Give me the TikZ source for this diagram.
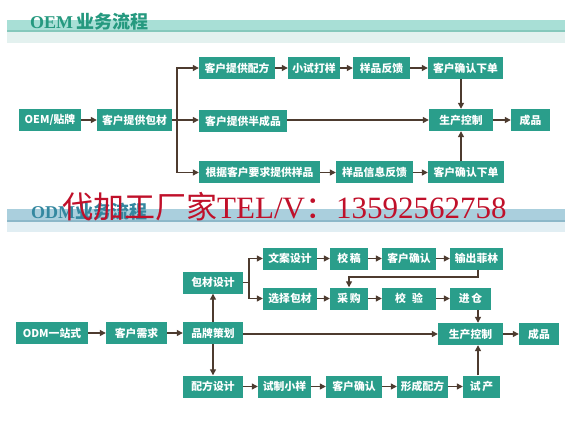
\documentclass[tikz,border=0pt]{standalone}
\usepackage{fontspec}
\setmainfont{Liberation Serif}
\newfontfamily\cjk{Noto Sans CJK SC}
\usetikzlibrary{arrows.meta}
\definecolor{boxfill}{HTML}{2A9E8B}
\definecolor{arrowc}{HTML}{4D3B2F}
\definecolor{oemband}{HTML}{A8DFD6}
\definecolor{oemline}{HTML}{86C8BC}
\definecolor{oemlight}{HTML}{E3F1EF}
\definecolor{odmband}{HTML}{AACFDD}
\definecolor{odmline}{HTML}{8DB8C9}
\definecolor{odmlight}{HTML}{E1EEF3}
\definecolor{oemtext}{HTML}{25997F}
\definecolor{odmtext}{HTML}{3488A0}
\definecolor{redmark}{HTML}{C0102A}
\tikzset{
  x=1pt, y=-1pt,
  box/.style={draw=none, fill=boxfill, text=white, minimum height=22pt, inner sep=0pt,
    font=\cjk\bfseries\fontsize{10.8}{10.8}\selectfont, anchor=center},
  arr/.style={draw=arrowc, line width=1.2pt, -{Triangle[length=6pt,width=6pt]}},
  ln/.style={draw=arrowc, line width=1.2pt},
}
\begin{document}
\begin{tikzpicture}
\useasboundingbox (0,0) rectangle (569,427);
\fill[white] (0,0) rectangle (569,427);
% ---------- OEM header ----------
\fill[oemband] (7,20) rectangle (565,32);
\fill[oemline] (7,30.5) rectangle (565,32);
\fill[oemlight] (7,32) rectangle (565,43);
\node[anchor=base west, inner sep=0pt, text=oemtext, font=\fontsize{18}{18}\selectfont\bfseries] (oemtitle) at (30,29) {OEM\,{\cjk 业务流程}};
% ---------- OEM boxes ----------
\node[box, minimum width=62pt] (oem) at (50,120) {OEM/贴牌};
\node[box, minimum width=75pt] (bc) at (134.5,120) {客户提供包材};
\node[box, minimum width=76pt] (pf) at (237,68) {客户提供配方};
\node[box, minimum width=88pt] (bcp) at (243,121) {客户提供半成品};
\node[box, minimum width=121pt] (yp) at (259.5,172.5) {根据客户要求提供样品};
\node[box, minimum width=52pt] (xs) at (314,68) {小试打样};
\node[box, minimum width=57pt] (fk) at (381.5,68) {样品反馈};
\node[box, minimum width=75pt] (qr1) at (465.5,68) {客户确认下单};
\node[box, minimum width=64pt] (sc) at (461,120) {生产控制};
\node[box, minimum width=39pt] (cp) at (530.5,120) {成品};
\node[box, minimum width=77pt] (xx) at (374.5,172.5) {样品信息反馈};
\node[box, minimum width=76pt] (qr2) at (466,172.5) {客户确认下单};
\coordinate (br1) at (177,120);
% ---------- OEM connectors ----------
\draw[arr] (oem) -- (bc);
\draw[ln] (bc.east) -- (br1);
\draw[arr] (br1) |- (pf.west);
\draw[arr] (br1) |- (yp.west);
\draw[arr] (br1) -- (bcp.west |- br1);
\draw[arr] (pf) -- (xs);
\draw[arr] (xs) -- (fk);
\draw[arr] (fk) -- (qr1);
\draw[arr] (sc.north |- qr1.south) -- (sc.north);
\draw[arr] (bcp.east |- sc.west) -- (sc.west);
\draw[arr] (yp) -- (xx);
\draw[arr] (xx) -- (qr2);
\draw[arr] (sc.south |- qr2.north) -- (sc.south);
\draw[arr] (sc) -- (cp);
% ---------- ODM header ----------
\fill[odmband] (7,209) rectangle (565,222);
\fill[odmline] (7,220.5) rectangle (565,222);
\fill[odmlight] (7,222) rectangle (565,232);
\node[anchor=base west, inner sep=0pt, text=odmtext, font=\fontsize{18}{18}\selectfont\bfseries] (odmtitle) at (31,219) {ODM{\cjk 业务流程}};
% ---------- ODM boxes ----------
\node[box, minimum width=72pt] (odm) at (52,333) {ODM一站式};
\node[box, minimum width=61pt] (xq) at (136.5,333) {客户需求};
\node[box, minimum width=60pt] (pp) at (213,333) {品牌策划};
\node[box, minimum width=60pt] (bd) at (213,282.5) {包材设计};
\node[box, minimum width=60pt] (pf2) at (213,386.5) {配方设计};
\node[box, minimum width=54pt] (wa) at (290,258.5) {文案设计};
\node[box, minimum width=54pt] (xz) at (290,298.5) {选择包材};
\node[box, minimum width=38pt] (jg) at (349,258.5) {校\,稿};
\node[box, minimum width=54pt] (kq1) at (409,258.5) {客户确认};
\node[box, minimum width=53pt] (fl) at (476.5,258.5) {输出菲林};
\node[box, minimum width=38pt] (cg) at (349,298.5) {采\,购};
\node[box, minimum width=54pt] (jy) at (409,298.5) {校\hspace{6pt}验};
\node[box, minimum width=41pt] (jc) at (470.5,298.5) {进\,仓};
\node[box, minimum width=65pt] (sc2) at (470.5,334) {生产控制};
\node[box, minimum width=40pt] (cp2) at (539,334) {成品};
\node[box, minimum width=53pt] (sz) at (284.5,386.5) {试制小样};
\node[box, minimum width=56pt] (kq2) at (354,386.5) {客户确认};
\node[box, minimum width=51pt] (xc) at (422.5,386.5) {形成配方};
\node[box, minimum width=37pt] (sp) at (481.5,386.5) {试\,产};
\coordinate (br2) at (249,282.5);
\coordinate (ret) at (0,277);
\coordinate (ax) at (478,0);
% ---------- ODM connectors ----------
\draw[arr] (odm) -- (xq);
\draw[arr] (xq) -- (pp);
\draw[arr] (pp) -- (bd);
\draw[arr] (pp) -- (pf2);
\draw[ln] (bd.east) -- (br2);
\draw[arr] (br2) |- (wa.west);
\draw[arr] (br2) |- (xz.west);
\draw[arr] (wa) -- (jg);
\draw[arr] (jg) -- (kq1);
\draw[arr] (kq1) -- (fl);
\draw[arr] (fl.south -| ax) -- (ax |- ret) -| (cg.north);
\draw[arr] (xz) -- (cg);
\draw[arr] (cg) -- (jy);
\draw[arr] (jy) -- (jc);
\draw[arr] (jc.south -| ax) -- (ax |- sc2.north);
\draw[arr] (pp.east |- sc2.west) -- (sc2.west);
\draw[arr] (sc2) -- (cp2);
\draw[arr] (pf2) -- (sz);
\draw[arr] (sz) -- (kq2);
\draw[arr] (kq2) -- (xc);
\draw[arr] (xc) -- (sp);
\draw[arr] (sp.north -| ax) -- (ax |- sc2.south);
% ---------- watermark ----------
\node[anchor=base west, inner sep=0pt, text=redmark, font=\fontsize{31}{31}\selectfont] (mark) at (62,219) {{\cjk 代加工厂家}TEL/V{\cjk ：}13592562758};
\end{tikzpicture}
\end{document}
